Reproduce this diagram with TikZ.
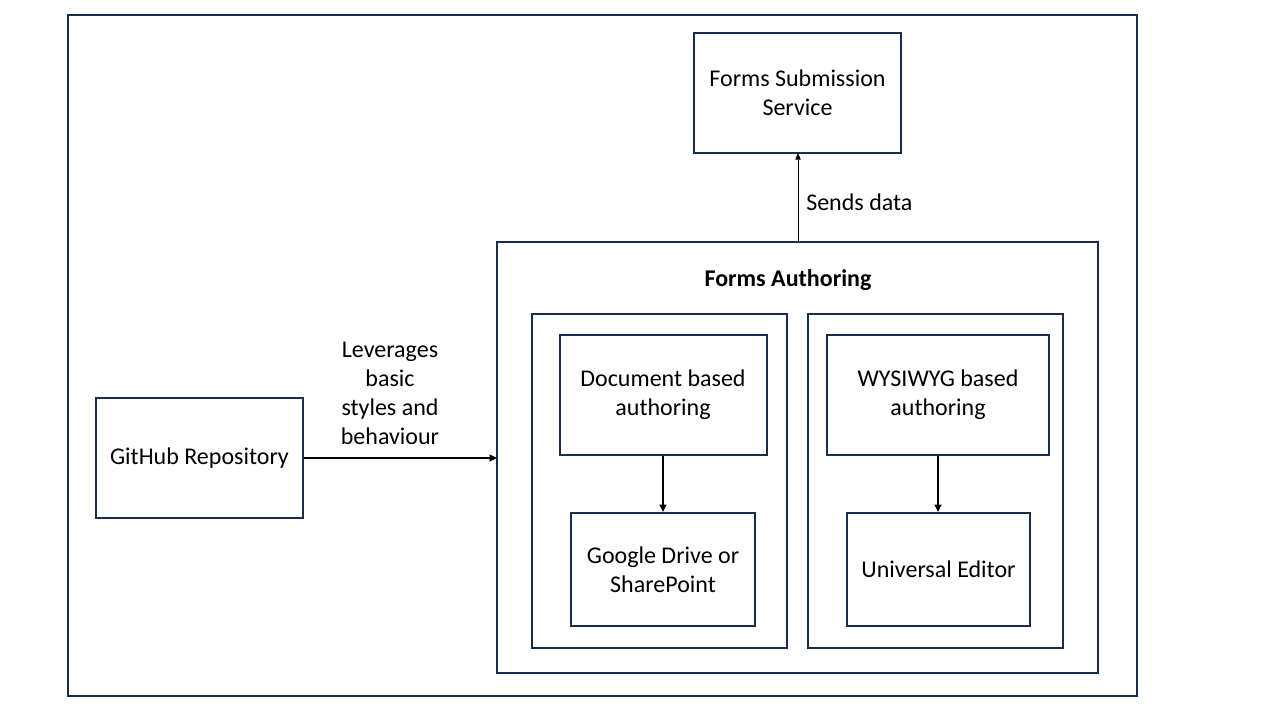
\documentclass[tikz,border=0pt]{standalone}
\usepackage{fontspec}
\setmainfont{Carlito}
\usetikzlibrary{arrows.meta}
\definecolor{navy}{HTML}{1B2D4F}
\definecolor{thin}{HTML}{404040}
\begin{document}
\begin{tikzpicture}[x=0.75pt,y=-0.75pt,
  frame/.style={draw=navy,line width=1.5pt},
  box/.style={draw=navy,line width=1.5pt,align=center,inner sep=0pt,
    font=\fontsize{18}{21.75}\selectfont},
  lbl/.style={align=center,inner sep=0pt,font=\fontsize{18}{21.75}\selectfont},
  arr/.style={-{Triangle[length=5.5pt,width=5pt]},line width=1.4pt,black},
  thinarr/.style={-{Triangle[length=5pt,width=4pt]},line width=0.5pt,thin}]
\useasboundingbox (0,0) rectangle (1280,720);
\draw[frame] (68,15) rectangle (1137,696);
% Forms Submission Service
\node[box,minimum width=207*0.75pt,minimum height=120*0.75pt] (fss) at (797.5,93) {Forms Submission\\Service};
% Forms Authoring
\node[box,minimum width=601*0.75pt,minimum height=431*0.75pt] (fa) at (797.5,457.5) {};
\node[lbl,font=\fontsize{18}{21.75}\selectfont\bfseries] (fat) at (788,280) {Forms Authoring};
\draw[frame] (532,314) rectangle (787,648);
\draw[frame] (808,314) rectangle (1063,648);
\node[box,minimum width=207*0.75pt,minimum height=120*0.75pt] (doc) at (663,395) {Document based\\authoring};
\node[box,minimum width=184*0.75pt,minimum height=113*0.75pt] (gd) at (663,569.5) {Google Drive or\\SharePoint};
\node[box,minimum width=222*0.75pt,minimum height=120*0.75pt] (wys) at (938,395) {WYSIWYG based\\authoring};
\node[box,minimum width=183*0.75pt,minimum height=113*0.75pt] (ue) at (938.5,569.5) {Universal Editor};
% GitHub
\node[box,minimum width=207*0.75pt,minimum height=120*0.75pt] (gh) at (199.5,458) {GitHub Repository};
% connectors
\coordinate (faTop) at (798,242);
\coordinate (fssBot) at (798,153);
\draw[thinarr] (faTop) -- (fssBot);
\node[lbl,anchor=west] (sd) at (806,202) {Sends data};
\coordinate (faLeft) at (497,458);
\draw[arr] (gh.east) -- (faLeft);
\node[lbl] (lev) at (390,393.5) {Leverages\\basic\\styles and\\behaviour};
\draw[arr] (doc.south) -- (doc.south |- gd.north);
\draw[arr] (wys.south) -- (wys.south |- ue.north);
\end{tikzpicture}
\end{document}
